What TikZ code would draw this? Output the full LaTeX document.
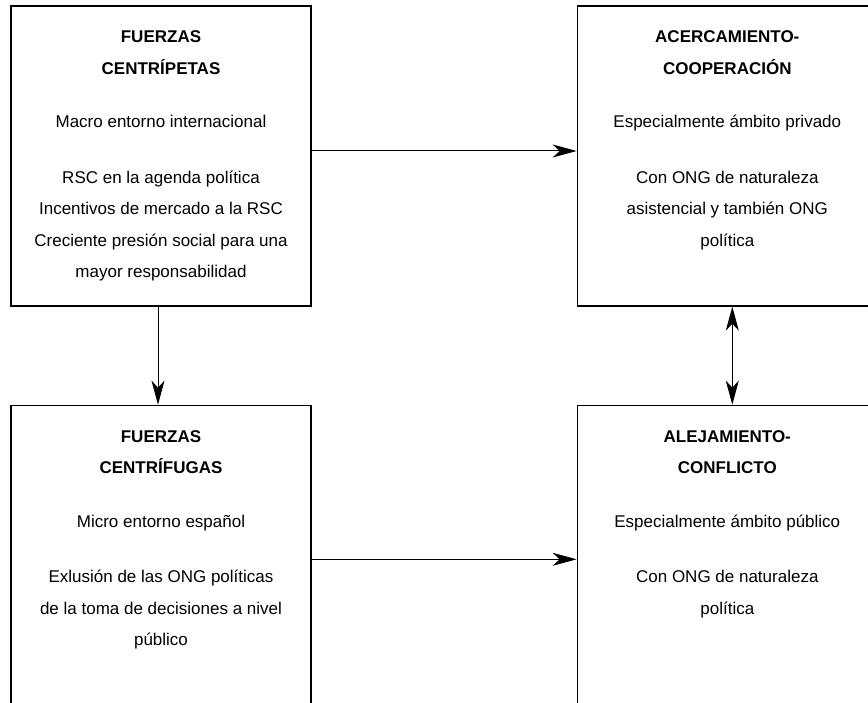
\documentclass[tikz,border=0pt]{standalone}
\usepackage{fontspec}
\setmainfont{Liberation Sans}
\usetikzlibrary{arrows.meta,positioning}

\begin{document}
\begin{tikzpicture}[line width=1pt, node distance=98pt]
\tikzstyle{box}=[draw=black,line width=1.3pt,minimum width=300pt,minimum height=300pt,inner sep=0pt]
\tikzstyle{txt}=[align=center,inner sep=0pt,font=\fontsize{17pt}{31.5pt}\selectfont]
\tikzstyle{arr}=[-{Stealth[length=24pt,width=13pt,inset=7pt]}]
\tikzstyle{darr}=[{Stealth[length=24pt,width=13pt,inset=7pt]}-{Stealth[length=24pt,width=13pt,inset=7pt]}]
\useasboundingbox (0,0) rectangle (868pt,-703pt);
\clip (0,0) rectangle (868pt,-703pt);
\node[box]    (cp) at (161pt,-156pt)   {};
\node[box]    (cf)[below=of cp]        {};
\node[box]    (ac)[right=265pt of cp]  {};
\node[box]    (al)[below=of ac]        {};

\node[txt]    (tcp)[below=25pt of cp.north] {\textbf{FUERZAS}\\ \textbf{CENTRÍPETAS}\\[22pt]
  Macro entorno internacional\\[24pt]
  RSC en la agenda política\\ Incentivos de mercado a la RSC\\
  Creciente presión social para una\\ mayor responsabilidad};
\node[txt]    (tcf)[below=25pt of cf.north] {\textbf{FUERZAS}\\ \textbf{CENTRÍFUGAS}\\[22pt]
  Micro entorno español\\[24pt]
  Exlusión de las ONG políticas\\ de la toma de decisiones a nivel\\ público};
\node[txt]    (tac)[below=25pt of ac.north] {\textbf{ACERCAMIENTO-}\\ \textbf{COOPERACIÓN}\\[22pt]
  Especialmente ámbito privado\\[24pt]
  Con ONG de naturaleza\\ asistencial y también ONG\\ política};
\node[txt]    (tal)[below=25pt of al.north] {\textbf{ALEJAMIENTO-}\\ \textbf{CONFLICTO}\\[22pt]
  Especialmente ámbito público\\[24pt]
  Con ONG de naturaleza\\ política};

\draw[arr]  ([yshift=5pt]cp.east)   -- ([yshift=5pt]ac.west);
\draw[arr]  ([xshift=-3pt]cp.south) -- ([xshift=-3pt]cf.north);
\draw[arr]  ([yshift=-4pt]cf.east)  -- ([yshift=-4pt]al.west);
\draw[darr] ([xshift=5pt]ac.south)  -- ([xshift=5pt]al.north);

\end{tikzpicture}
\end{document}
